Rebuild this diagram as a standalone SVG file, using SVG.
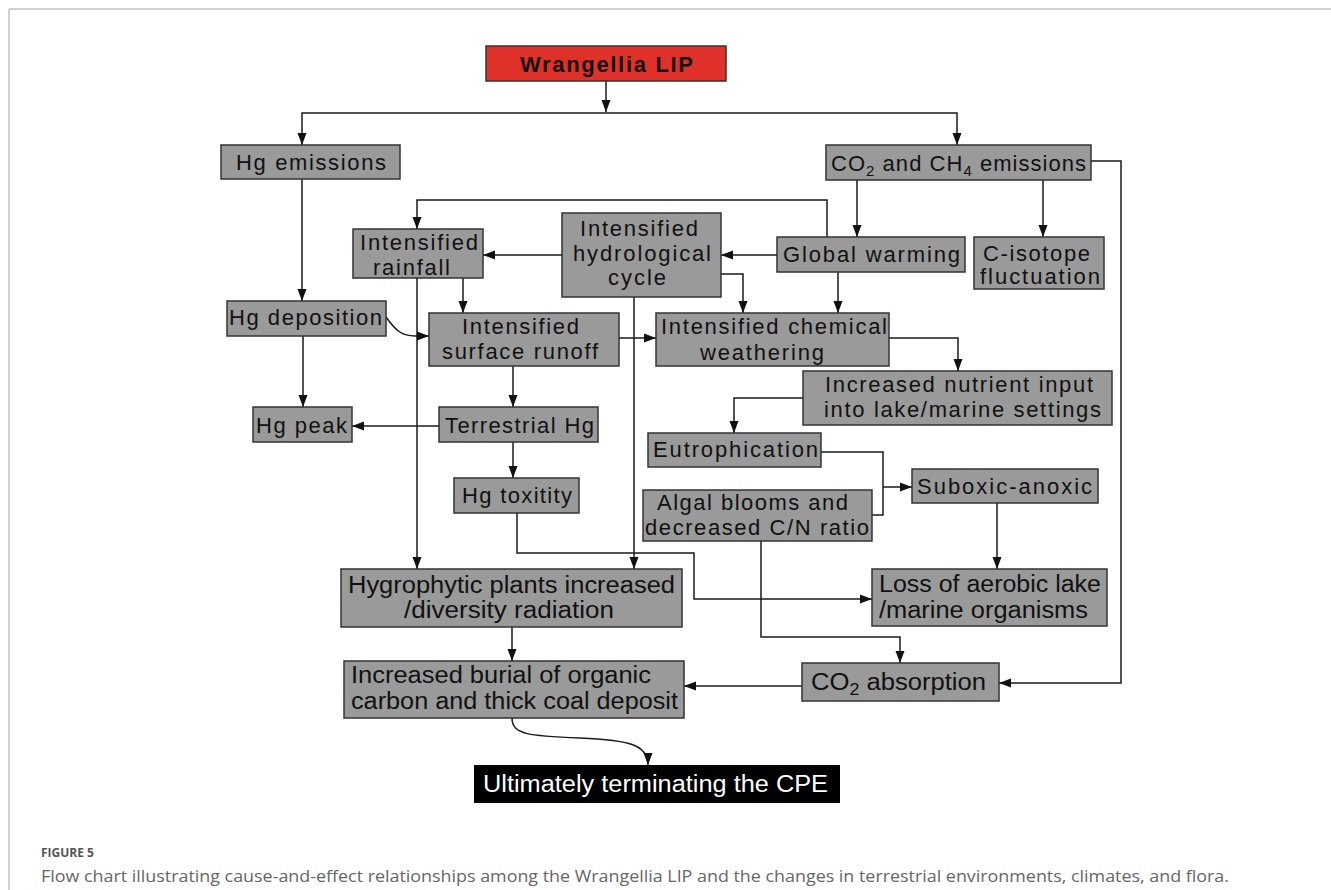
<svg xmlns="http://www.w3.org/2000/svg" width="1331" height="890" viewBox="0 0 1331 890">
<style>
.box{fill:#9a9a9a;stroke:#333;stroke-width:1.5}
.t{font-family:"Liberation Sans",Arial,sans-serif;font-size:22px;fill:#111}
.tn{font-family:"Liberation Sans",Arial,sans-serif;font-size:23px;fill:#111}
.c{fill:none;stroke:#1a1a1a;stroke-width:1.5}
.cap1{font-family:"Open Sans","Noto Sans",sans-serif;font-size:12px;font-weight:bold;fill:#555}
.cap2{font-family:"Open Sans","Noto Sans",sans-serif;font-size:16px;fill:#666}
</style>
<defs>
<marker id="ah" markerUnits="userSpaceOnUse" markerWidth="13" markerHeight="10" refX="12" refY="5" orient="auto">
<path d="M0,0.5 L12,5 L0,9.5 z" fill="#111"/>
</marker>
</defs>
<rect width="1331" height="890" fill="#fff"/>
<path d="M9,9 H1331 M9,9 V890" fill="none" stroke="#c4c4c4" stroke-width="1.5"/>

<g id="connectors" class="c" marker-end="url(#ah)">
<path d="M606,81 V112"/>
<path d="M606,113 H302 V145"/>
<path d="M606,113 H957 V145"/>
<path d="M302,179 V301"/>
<path d="M857,180 V237"/>
<path d="M1043,180 V237"/>
<path d="M1091,161 H1121 V683 H999"/>
<path d="M777,255 H721"/>
<path d="M827,237 V200 H417 V229"/>
<path d="M838,272 V313"/>
<path d="M721,274 H743 V313"/>
<path d="M562,255 H483"/>
<path d="M634,297 V569"/>
<path d="M417,278 V569"/>
<path d="M463,278 V313"/>
<path d="M386,317 C396,331 402,336 415,336 H429"/>
<path d="M303,336 V407"/>
<path d="M619,338 H656"/>
<path d="M513,366 V407"/>
<path d="M439,426 H352"/>
<path d="M513,442 V478"/>
<path d="M517,513 V553 H694 V599 H872"/>
<path d="M889,338 H958 V371"/>
<path d="M804,398 H734 V433"/>
<path d="M821,452 H883 V515 H872" marker-end="none"/>
<path d="M883,487 H912"/>
<path d="M997,503 V569"/>
<path d="M761,541 V637 H900 V663"/>
<path d="M512,627 V661"/>
<path d="M802,686 H684"/>
<path d="M512,718 C512,735 530,736 580,738 C630,740 648,745 648,765"/>
</g>

<g id="n-lip">
<rect x="486" y="46" width="240" height="35" fill="#e0302a" stroke="#333" stroke-width="1.5"/>
<text x="520" y="72" class="t" font-size="23" font-weight="bold" textLength="173">Wrangellia LIP</text>
</g>
<g id="n-hg-emissions">
<rect class="box" x="221" y="145" width="179" height="34"/>
<text x="236" y="170" class="t" textLength="150">Hg emissions</text>
</g>
<g id="n-co2-emissions">
<rect class="box" x="826" y="145" width="265" height="35"/>
<text x="831" y="171" class="t" textLength="255">CO<tspan font-size="15" dy="5">2</tspan><tspan dy="-5"> and CH</tspan><tspan font-size="15" dy="5">4</tspan><tspan dy="-5"> emissions</tspan></text>
</g>
<g id="n-rainfall">
<rect class="box" x="353" y="229" width="130" height="49"/>
<text x="360" y="250" class="t" textLength="118">Intensified</text>
<text x="373" y="275" class="t" textLength="77">rainfall</text>
</g>
<g id="n-hydro">
<rect class="box" x="562" y="213" width="159" height="84"/>
<text x="580" y="236" class="t" textLength="118">Intensified</text>
<text x="573" y="261" class="t" textLength="138">hydrological</text>
<text x="608" y="285" class="t" textLength="58">cycle</text>
</g>
<g id="n-warming">
<rect class="box" x="777" y="237" width="188" height="35"/>
<text x="783" y="262" class="t" textLength="177">Global warming</text>
</g>
<g id="n-cisotope">
<rect class="box" x="974" y="237" width="130" height="52"/>
<text x="983" y="261" class="t" textLength="107">C-isotope</text>
<text x="980" y="284" class="t" textLength="120">fluctuation</text>
</g>
<g id="n-hg-deposition">
<rect class="box" x="227" y="301" width="159" height="35"/>
<text x="229" y="325" class="t" textLength="153">Hg deposition</text>
</g>
<g id="n-runoff">
<rect class="box" x="429" y="313" width="190" height="53"/>
<text x="462" y="334" class="t" textLength="117">Intensified</text>
<text x="442" y="359" class="t" textLength="156">surface runoff</text>
</g>
<g id="n-weathering">
<rect class="box" x="656" y="313" width="233" height="53"/>
<text x="661" y="334" class="t" textLength="226">Intensified chemical</text>
<text x="700" y="360" class="t" textLength="124">weathering</text>
</g>
<g id="n-nutrient">
<rect class="box" x="803" y="371" width="309" height="54"/>
<text x="825" y="392" class="t" textLength="268">Increased nutrient input</text>
<text x="824" y="417" class="t" textLength="277">into lake/marine settings</text>
</g>
<g id="n-hg-peak">
<rect class="box" x="253" y="407" width="99" height="35"/>
<text x="256" y="433" class="t" textLength="91">Hg peak</text>
</g>
<g id="n-terrestrial">
<rect class="box" x="439" y="407" width="159" height="35"/>
<text x="445" y="433" class="t" textLength="149">Terrestrial Hg</text>
</g>
<g id="n-eutrophication">
<rect class="box" x="648" y="433" width="173" height="34"/>
<text x="653" y="457" class="t" textLength="165">Eutrophication</text>
</g>
<g id="n-suboxic">
<rect class="box" x="912" y="469" width="186" height="34"/>
<text x="917" y="494" class="t" textLength="175">Suboxic-anoxic</text>
</g>
<g id="n-toxitity">
<rect class="box" x="454" y="478" width="125" height="35"/>
<text x="462" y="503" class="t" textLength="110">Hg toxitity</text>
</g>
<g id="n-algal">
<rect class="box" x="643" y="490" width="229" height="51"/>
<text x="657" y="510" class="t" textLength="191">Algal blooms and</text>
<text x="645" y="535" class="t" textLength="224">decreased C/N ratio</text>
</g>
<g id="n-hygrophytic">
<rect class="box" x="341" y="569" width="341" height="58"/>
<text x="348" y="593" class="tn" textLength="327" lengthAdjust="spacingAndGlyphs">Hygrophytic plants increased</text>
<text x="404" y="618" class="tn" textLength="210" lengthAdjust="spacingAndGlyphs">/diversity radiation</text>
</g>
<g id="n-loss">
<rect class="box" x="872" y="569" width="235" height="57"/>
<text x="879" y="592" class="tn" textLength="222" lengthAdjust="spacingAndGlyphs">Loss of aerobic lake</text>
<text x="879" y="618" class="tn" textLength="209" lengthAdjust="spacingAndGlyphs">/marine organisms</text>
</g>
<g id="n-burial">
<rect class="box" x="344" y="661" width="340" height="57"/>
<text x="351" y="683" class="tn" textLength="300" lengthAdjust="spacingAndGlyphs">Increased burial of organic</text>
<text x="351" y="709" class="tn" textLength="327" lengthAdjust="spacingAndGlyphs">carbon and thick coal deposit</text>
</g>
<g id="n-co2-absorption">
<rect class="box" x="802" y="663" width="197" height="38"/>
<text x="811" y="690" class="tn" textLength="175" lengthAdjust="spacingAndGlyphs">CO<tspan font-size="16" dy="5">2</tspan><tspan dy="-5"> absorption</tspan></text>
</g>
<g id="n-cpe">
<rect x="474" y="765" width="366" height="38" fill="#000"/>
<text x="483" y="792" class="tn" fill="#fff" style="fill:#fff" textLength="345" lengthAdjust="spacingAndGlyphs">Ultimately terminating the CPE</text>
</g>

<g id="caption">
<text x="41" y="857" class="cap1">FIGURE 5</text>
<text x="41" y="882" class="cap2" textLength="1188" lengthAdjust="spacingAndGlyphs">Flow chart illustrating cause-and-effect relationships among the Wrangellia LIP and the changes in terrestrial environments, climates, and flora.</text>
</g>
</svg>
